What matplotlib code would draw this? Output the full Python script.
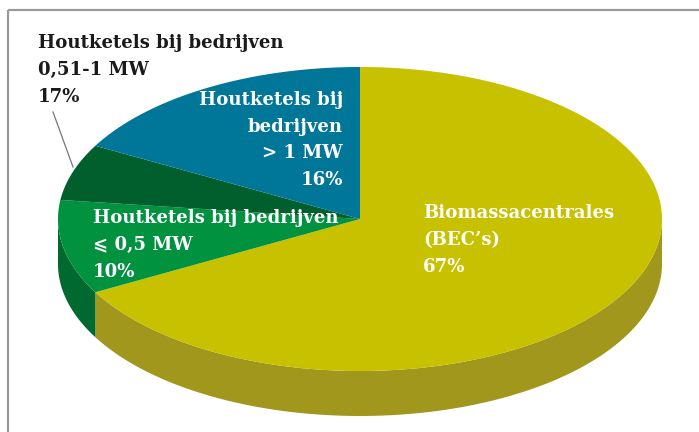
import numpy as np
import matplotlib
matplotlib.use("Agg")
import matplotlib.pyplot as plt
from matplotlib.patches import Polygon

# slice data, clockwise from 12 o'clock
sizes = [67, 10, 6, 17]
top_colors = ["#c8c100", "#00923f", "#005f2d", "#007699"]
side_colors = ["#a0971c", "#00692f", "#004a22", "#005a75"]
labels = [
    "Biomassacentrales\n(BEC\u2019s)\n67%",
    "Houtketels bij bedrijven\n\u2a7d 0,5 MW\n10%",
    "Houtketels bij bedrijven\n0,51-1 MW\n17%",
    "Houtketels bij\nbedrijven\n> 1 MW\n16%",
]

W, H = 699, 432
fig = plt.figure(figsize=(W / 100, H / 100), dpi=100)
ax = fig.add_axes([0, 0, 1, 1])
ax.set_xlim(0, W)
ax.set_ylim(H, 0)
ax.axis("off")

# frame lines (top and left)
ax.plot([8, W], [10, 10], color="#9a9a9a", lw=1.6, solid_capstyle="butt")
ax.plot([8, 8], [10, H], color="#9a9a9a", lw=1.6, solid_capstyle="butt")

cx, cy, a, b, depth = 360, 219, 302, 152, 45


def pt(t):
    return cx + a * np.cos(t), cy - b * np.sin(t)


# angles of slice boundaries (degrees, counter-clockwise math convention)
bounds = 90 - 3.6 * np.concatenate([[0], np.cumsum(sizes)])

# side walls (visible part: 180..360 deg)
for i in range(len(sizes)):
    lo, hi = bounds[i + 1], bounds[i]
    for shift in (-360, 0, 360):
        s = max(lo, 180 + shift)
        e = min(hi, 360 + shift)
        if e <= s:
            continue
        t = np.radians(np.linspace(s, e, 100))
        x, y = pt(t)
        verts = np.column_stack([np.r_[x, x[::-1]], np.r_[y, y[::-1] + depth]])
        ax.add_patch(Polygon(verts, closed=True, fc=side_colors[i], ec="none"))

# top faces
for i in range(len(sizes)):
    t = np.radians(np.linspace(bounds[i], bounds[i + 1], 200))
    x, y = pt(t)
    verts = np.column_stack([np.r_[cx, x], np.r_[cy, y]])
    ax.add_patch(Polygon(verts, closed=True, fc=top_colors[i], ec="none"))

font = dict(family=["DejaVu Serif", "DejaVu Sans"],
            fontsize=13.1, fontweight="bold", linespacing=1.62)

ax.text(423, 240, labels[0], color="white", ha="left", va="center", **font)
ax.text(93, 245, labels[1], color="white", ha="left", va="center", **font)
ax.text(38, 70, labels[2], color="#1a1a1a", ha="left", va="center", **font)
ax.text(343, 140, labels[3], color="white", ha="right", va="center",
        multialignment="right", **font)

# leader line for the small slice
ax.plot([53, 73], [112, 167], color="#777777", lw=0.9)

fig.savefig("out.png", dpi=100)
